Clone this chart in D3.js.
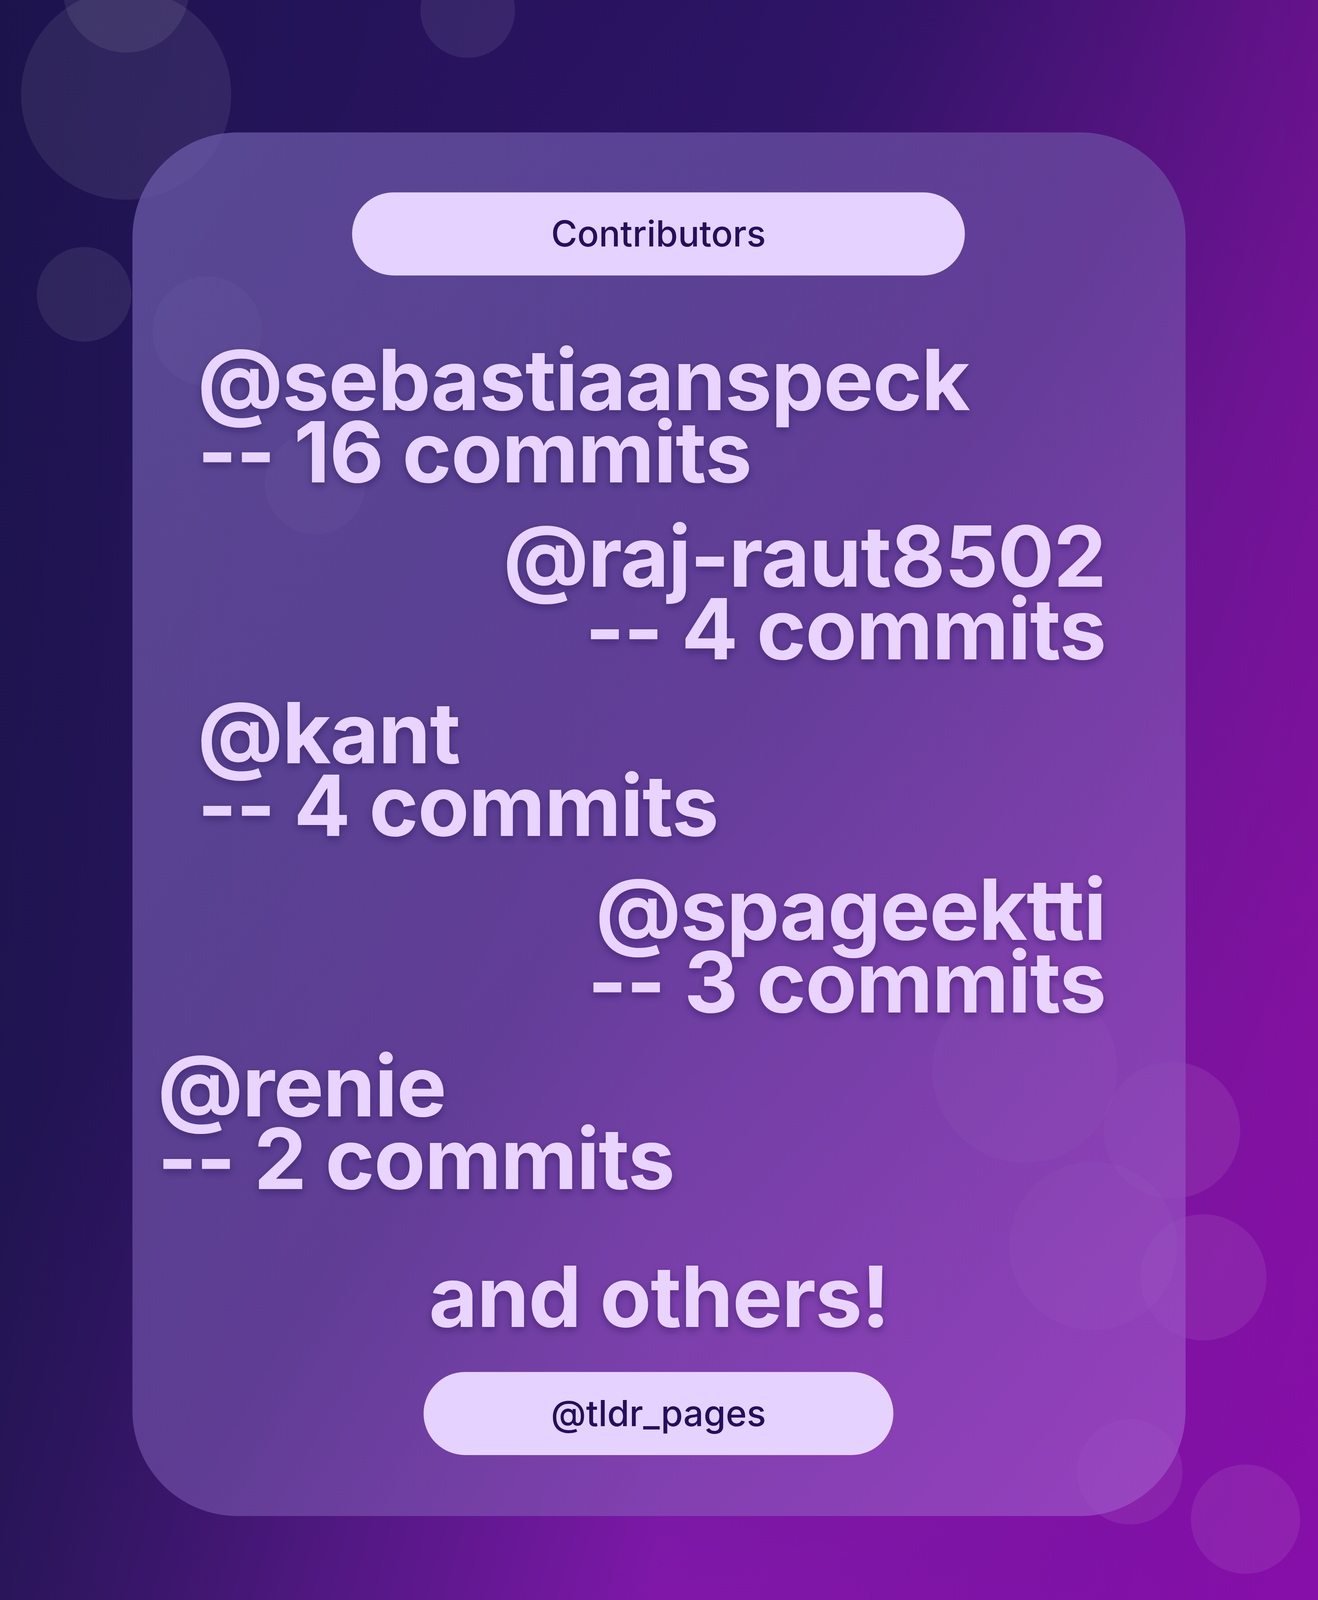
<!DOCTYPE html>
<html><head><meta charset="utf-8">
<script src="https://cdn.jsdelivr.net/npm/d3@7"></script>
<style>html,body{margin:0;padding:0;background:#1e1450;overflow:hidden}</style>
</head><body>
<svg id="c" width="3375" height="4219"></svg>
<script>
const title = "Contributors";
const footer = "@tldr_pages";
const closing = "and others!";
const names = ["@sebastiaanspeck","@raj-raut8502","@kant","@spageektti","@renie"];
const commits = [16,4,4,3,2];
const aligns = ["left","right","left","right","left"];
const bokeh = [[120,-10,60],[445,10,45],[120,90,100],[80,280,45],[197,315,52],[300,460,48],[975,1018,88],[1115,1075,65],[1040,1185,80],[1145,1215,60],[1185,1445,52],[1075,1400,50]];

const s = 3375/1254;
const W = 3375, H = 4219;
const svg = d3.select("#c");
const defs = svg.append("defs");
const g = defs.append("linearGradient").attr("id","bg").attr("x1","0").attr("y1","0").attr("x2","1").attr("y2","1");
[["0","#201256"],["0.35","#2e1466"],["0.6","#6a1a9a"],["0.8","#8a16b0"],["1","#9610c4"]].forEach(d=>g.append("stop").attr("offset",d[0]).attr("stop-color",d[1]));
const g2 = defs.append("linearGradient").attr("id","bg2").attr("x1","0").attr("y1","0").attr("x2","1").attr("y2","0");
[["0","#1a1448","0.7"],["0.5","#2a1460","0"],["1","#7a0c90","0.5"]].forEach(d=>g2.append("stop").attr("offset",d[0]).attr("stop-color",d[1]).attr("stop-opacity",d[2]));
const cg = defs.append("linearGradient").attr("id","card").attr("x1","0").attr("y1","0").attr("x2","1").attr("y2","1");
[["0","#6a5aa8"],["0.5","#6a4aa0"],["1","#a050c8"]].forEach(d=>cg.append("stop").attr("offset",d[0]).attr("stop-color",d[1]));
const f = defs.append("filter").attr("id","sh").attr("x","-10%").attr("y","-10%").attr("width","120%").attr("height","130%");
f.append("feDropShadow").attr("dx",0).attr("dy",8).attr("stdDeviation",10).attr("flood-color","#200040").attr("flood-opacity",0.35);

svg.append("rect").attr("width",W).attr("height",H).attr("fill","url(#bg)");
svg.append("rect").attr("width",W).attr("height",H).attr("fill","url(#bg2)");
svg.selectAll("circle.b").data(bokeh).join("circle").attr("cx",d=>d[0]*s).attr("cy",d=>d[1]*s).attr("r",d=>d[2]*s).attr("fill","#ffffff").attr("opacity",0.08);

svg.append("rect").attr("x",126*s).attr("y",126*s).attr("width",1002*s).attr("height",1316*s).attr("rx",100*s).attr("fill","url(#card)").attr("opacity",0.75);

function pill(x0,x1,y0,y1,txt){
  svg.append("rect").attr("x",x0*s).attr("y",y0*s).attr("width",(x1-x0)*s).attr("height",(y1-y0)*s).attr("rx",(y1-y0)/2*s).attr("fill","#e6d2ff");
  svg.append("text").attr("x",(x0+x1)/2*s).attr("y",(y0+y1)/2*s).attr("dy","0.35em").attr("text-anchor","middle")
    .attr("font-family","Inter, sans-serif").attr("font-weight",500).attr("font-size",34*s).attr("fill","#24105a").text(txt);
}
pill(335,918,183,262,title);
pill(403,850,1305,1384,footer);

const yName = d3.scalePoint().domain(d3.range(names.length)).range([390,1062]);
const fs = 80*s;
const tg = svg.append("g").attr("font-family","Inter, sans-serif").attr("font-weight",700).attr("font-size",fs).attr("fill","#e8d4ff").attr("filter","url(#sh)").attr("letter-spacing",-2);
names.forEach((n,i)=>{
  const right = aligns[i]==="right";
  const x = (right?1052:(i===4?150:188))*s;
  const y = yName(i)*s;
  tg.append("text").attr("x",x).attr("y",y).attr("text-anchor",right?"end":"start").text(n);
  tg.append("text").attr("x",x).attr("y",y+69*s).attr("text-anchor",right?"end":"start").text(`-- ${commits[i]} commits`);
});
tg.append("text").attr("x",627*s).attr("y",1262*s).attr("text-anchor","middle").text(closing);
</script>
</body></html>
